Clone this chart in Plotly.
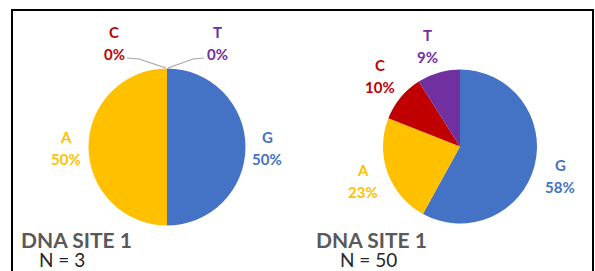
import plotly.graph_objects as go

W, H = 595, 271

bases = ["G", "A", "C", "T"]
site1_n3 = [50, 50, 0, 0]
site1_n50 = [58, 23, 10, 9]
titles = ["DNA SITE 1", "DNA SITE 1"]
counts = ["N = 3", "N = 50"]
colors = {"G": "#4472C4", "A": "#FFC000", "C": "#C00000", "T": "#7030A0"}

def px(x):
    return x / W

def py(y):
    return 1 - y / H

def pie_domain(cx, cy, r):
    return dict(x=[px(cx - r), px(cx + r)], y=[py(cy + r), py(cy - r)])

fig = go.Figure()
pies = [(site1_n3, 167, 147, 78.5), (site1_n50, 460, 146.5, 77)]
for vals, cx, cy, r in pies:
    fig.add_trace(go.Pie(
        labels=bases, values=vals, sort=False, direction="clockwise", rotation=0,
        marker=dict(colors=[colors[b] for b in bases], line=dict(width=0)),
        textinfo="none", hoverinfo="label+percent", showlegend=False,
        domain=pie_domain(cx, cy, r),
    ))

# label positions (pixel centers of base letter line)
label_pos = [
    {"G": (267, 137), "A": (66, 137), "C": (114, 32), "T": (218, 32)},
    {"G": (560, 165), "A": (363, 170), "C": (380, 65), "T": (427, 35)},
]
font_lbl = "Lato"
annotations = []
for vals, pos in zip([site1_n3, site1_n50], label_pos):
    for b, v in zip(bases, vals):
        x, y = pos[b]
        annotations.append(dict(x=px(x), y=py(y), xref="paper", yref="paper", text=f"<b>{b}</b>",
                                showarrow=False, xanchor="center", yanchor="middle",
                                font=dict(family=font_lbl, size=15, color=colors[b])))
        annotations.append(dict(x=px(x), y=py(y + 22), xref="paper", yref="paper", text=f"<b>{v}%</b>",
                                showarrow=False, xanchor="center", yanchor="middle",
                                font=dict(family=font_lbl, size=15, color=colors[b])))

title_pos = [(76, 239, 62, 259.5), (371, 239, 368, 259)]
for t, n, (tx, ty, nx, ny) in zip(titles, counts, title_pos):
    annotations.append(dict(x=px(tx), y=py(ty), xref="paper", yref="paper", text=f"<b>{t}</b>",
                            showarrow=False, xanchor="center", yanchor="middle",
                            font=dict(family="Lato", size=21, color="#595959")))
    annotations.append(dict(x=px(nx), y=py(ny), xref="paper", yref="paper", text=n,
                            showarrow=False, xanchor="center", yanchor="middle",
                            font=dict(family="Lato", size=19, color="#262626")))

def path(points):
    s = "M " + " L ".join(f"{px(x):.5f},{py(y):.5f}" for x, y in points)
    return s

shapes = [
    dict(type="rect", xref="paper", yref="paper", x0=px(12), x1=px(593), y0=py(290), y1=py(10),
         line=dict(color="black", width=2), fillcolor="rgba(0,0,0,0)"),
    dict(type="path", xref="paper", yref="paper", path=path([(127, 58), (139, 59), (166, 68)]),
         line=dict(color="#A6A6A6", width=1.2)),
    dict(type="path", xref="paper", yref="paper", path=path([(204, 58), (193, 59), (168, 68)]),
         line=dict(color="#A6A6A6", width=1.2)),
]

fig.update_layout(width=W, height=H, margin=dict(l=0, r=0, t=0, b=0),
                  paper_bgcolor="white", plot_bgcolor="white",
                  annotations=annotations, shapes=shapes)
fig.write_html("out.html", config={"displayModeBar": False},
               post_script="document.body.style.margin='0';document.body.style.overflow='hidden';")
